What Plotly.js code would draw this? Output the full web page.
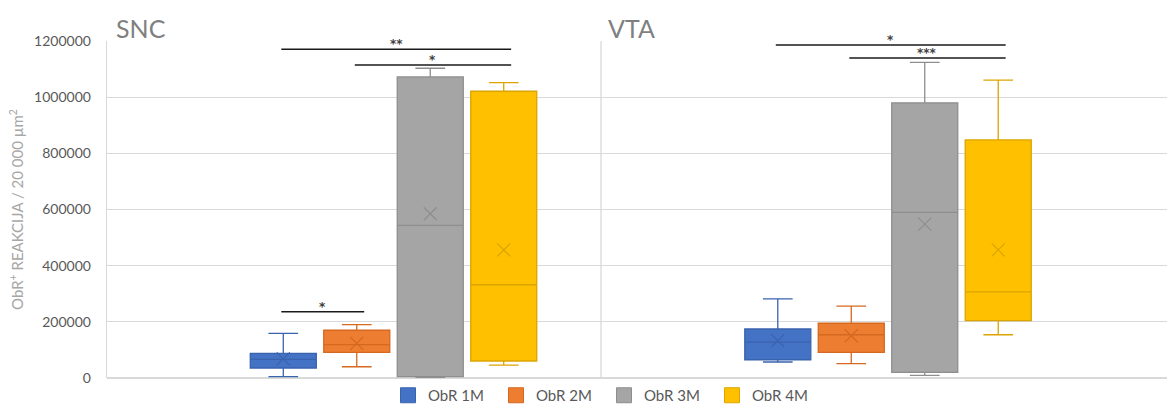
<!DOCTYPE html>
<html>
<head>
<meta charset="utf-8">
<script src="https://cdn.plot.ly/plotly-3.0.1.min.js"></script>
<style>html,body{margin:0;padding:0;background:#fff;}#chart{width:1167px;height:412px;}</style>
</head>
<body>
<div id="chart"></div>
<script>
// Regions (groups) and series
const regions = ["SNC", "VTA"];
const seriesNames = ["ObR 1M", "ObR 2M", "ObR 3M", "ObR 4M"];
const fillColors = ["#4472C4", "#ED7D31", "#A5A5A5", "#FFC000"];
const lineColors = ["#3A63AE", "#D4691F", "#8E8E8E", "#DBA400"];

// Box statistics per series: [SNC, VTA]
const lowerWhisker = [[5000, 57000], [40000, 51000], [0, 9500], [46000, 154000]];
const q1Values     = [[35600, 65000], [91500, 91500], [5000, 20000], [60500, 204000]];
const medianValues = [[66600, 128000], [118700, 154000], [543600, 590000], [332000, 307000]];
const q3Values     = [[88000, 174500], [170000, 195000], [1072000, 980000], [1021000, 847600]];
const upperWhisker = [[159000, 282000], [190000, 256000], [1103000, 1124000], [1052000, 1061000]];
const meanValues   = [[68000, 133000], [123500, 150600], [585000, 548000], [456000, 456000]];

// Significance brackets: region index, from series, to series, y value, label
const sigRegion = [0, 0, 0, 1, 1];
const sigFrom   = [0, 1, 0, 0, 1];
const sigTo     = [3, 3, 1, 3, 3];
const sigY      = [1170600, 1114700, 236000, 1186000, 1139600];
const sigLabel  = ["**", "*", "*", "*", "***"];

const yTicks = [0, 200000, 400000, 600000, 800000, 1000000, 1200000];

// layout geometry (in category units)
const SLOT = 0.1486;
const BOXW = 0.1335;
const pos = (g, k) => g + (k - 1.5) * SLOT;

const traces = [];
seriesNames.forEach((name, k) => {
  const xs = regions.map((r, g) => pos(g, k));
  traces.push({
    type: "box",
    name: name,
    x: xs,
    q1: q1Values[k],
    median: medianValues[k],
    q3: q3Values[k],
    lowerfence: lowerWhisker[k],
    upperfence: upperWhisker[k],
    width: BOXW,
    whiskerwidth: 0.45,
    fillcolor: fillColors[k],
    line: {color: lineColors[k], width: 1.3},
    boxpoints: false,
    showlegend: false,
    hoverinfo: "skip"
  });
});
seriesNames.forEach((name, k) => {
  traces.push({
    type: "scatter",
    mode: "markers",
    x: regions.map((r, g) => pos(g, k)),
    y: meanValues[k],
    marker: {symbol: "x-thin-open", size: 13, line: {color: lineColors[k], width: 1.2}, color: lineColors[k]},
    showlegend: false,
    hoverinfo: "skip"
  });
});
// legend entries (square swatches)
seriesNames.forEach((name, k) => {
  traces.push({
    type: "scatter",
    mode: "markers",
    name: name,
    x: [null], y: [null],
    marker: {symbol: "square", size: 15, color: fillColors[k], line: {color: lineColors[k], width: 1}},
    showlegend: true,
    hoverinfo: "skip"
  });
});

const shapes = [];
const annotations = [];
sigRegion.forEach((g, i) => {
  const x0 = pos(g, sigFrom[i]) - 0.004;
  const x1 = pos(g, sigTo[i]) + 0.015;
  shapes.push({type: "line", xref: "x", yref: "y", x0: x0, x1: x1, y0: sigY[i], y1: sigY[i],
    line: {color: "#1a1a1a", width: 1.5}});
  annotations.push({xref: "x", yref: "y", x: (x0 + x1) / 2, y: sigY[i], text: "<b>" + sigLabel[i] + "</b>",
    showarrow: false, yanchor: "bottom", yshift: -4, font: {family: "DejaVu Sans", size: 12, color: "#404040"}});
});
// divider between regions
shapes.push({type: "line", xref: "paper", yref: "paper", x0: (601 - 107) / 1060, x1: (601 - 107) / 1060, y0: 0, y1: 1,
  line: {color: "#d9d9d9", width: 1.3}});

// region titles
regions.forEach((r, g) => {
  annotations.push({xref: "paper", yref: "paper", x: g === 0 ? (114 - 107) / 1060 : (606 - 107) / 1060, y: 1,
    xanchor: "left", yanchor: "bottom", yshift: -4, text: r, showarrow: false,
    font: {family: "Lato, Open Sans, sans-serif", size: 25, color: "#7f7f7f"}});
});

const layout = {
  width: 1167, height: 412,
  margin: {l: 107, r: 0, t: 41, b: 34, autoexpand: false},
  paper_bgcolor: "#fff", plot_bgcolor: "#fff",
  showlegend: true,
  legend: {orientation: "h", x: 388 / 1167, xref: "container", xanchor: "left", y: -0.018, yref: "container", yanchor: "bottom",
    font: {family: "Lato, Open Sans, sans-serif", size: 15, color: "#595959"}, itemwidth: 30, tracegroupgap: 0,
    entrywidth: 63, entrywidthmode: "pixels"},
  xaxis: {range: [-0.5794, 1.5642], showticklabels: false, showgrid: false, zeroline: false, ticks: "", fixedrange: true, automargin: false},
  yaxis: {range: [0, 1200000], tickvals: yTicks, ticktext: yTicks.map(String), automargin: false,
    showgrid: true, gridcolor: "#d9d9d9", gridwidth: 1.3, zeroline: true, zerolinecolor: "#d9d9d9", zerolinewidth: 1.3,
    showline: true, linecolor: "#d9d9d9", linewidth: 1.3, ticks: "", ticklabelstandoff: 12,
    tickfont: {family: "Lato, Open Sans, sans-serif", size: 14, color: "#595959"},
    title: {text: "ObR<sup>+</sup> REAKCIJA / 20 000 µm<sup>2</sup>", standoff: 6,
      font: {family: "Lato, Open Sans, sans-serif", size: 15, color: "#a6a6a6"}}},
  shapes: shapes,
  annotations: annotations
};

Plotly.newPlot("chart", traces, layout, {displayModeBar: false, staticPlot: true});
</script>
</body>
</html>
